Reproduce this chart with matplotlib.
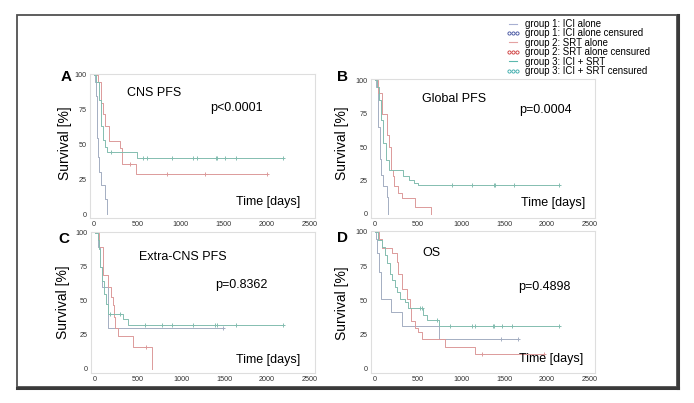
import matplotlib
matplotlib.use('Agg')
from matplotlib import pyplot as plt
from matplotlib.lines import Line2D
from matplotlib.patches import Rectangle

plt.rcParams['font.family'] = ['Liberation Sans', 'DejaVu Sans']

# Kaplan-Meier curves: step times (days) and survival (%)
# A: CNS PFS
a1_t = [0, 10, 25, 35, 40, 45, 60, 85, 124, 150]
a1_s = [100, 95, 85, 70, 55, 41, 30, 21, 11, 0]
a1_c = []
a2_t = [0, 50, 85, 105, 130, 175, 300, 320, 485, 2004]
a2_s = [100, 95, 80, 72, 63, 52.5, 47.7, 36, 28.5, 28.5]
a2_c = [415, 841, 1279, 2004]
a3_t = [0, 25, 60, 85, 105, 125, 150, 500, 2186]
a3_s = [100, 95, 82, 63, 53, 48, 44.8, 40.5, 40.5]
a3_c = [200, 562, 608, 899, 1151, 1190, 1411, 1426, 1519, 1647, 2186]

# B: Global PFS
b1_t = [0, 12, 30, 40, 58, 70, 97, 136, 155]
b1_s = [100, 95, 80, 65, 41, 29, 21, 13, 0]
b1_c = []
b2_t = [0, 40, 80, 136, 167, 182, 213, 225, 271, 310, 465, 647]
b2_s = [100, 90, 75, 59, 50, 33, 28, 21, 15.4, 11.7, 5.5, 0]
b2_c = []
b3_t = [0, 20, 45, 70, 97, 128, 167, 330, 390, 450, 500, 2143]
b3_s = [100, 95, 85, 70, 53, 40, 32.8, 28.4, 25, 23, 21.6, 21.6]
b3_c = [891, 1132, 1384, 1395, 1616, 2143]

# C: Extra-CNS PFS
c1_t = [0, 40, 58, 78, 155, 1492]
c1_s = [100, 90, 75, 60.5, 30, 30]
c1_c = [1492]
c2_t = [0, 50, 97, 155, 182, 205, 225, 233, 271, 440, 659]
c2_s = [100, 90, 69, 60.5, 53, 47, 38.5, 30, 24, 16, 0]
c2_c = [589]
c3_t = [0, 30, 45, 58, 78, 100, 125, 155, 322, 388, 2190]
c3_s = [100, 95, 88, 75, 65, 55, 48, 40.2, 36.6, 32.4, 32.4]
c3_c = [174, 291, 581, 783, 891, 1143, 1395, 1415, 1636, 2190]

# D: OS
d1_t = [0, 12, 27, 47, 66, 183, 311, 739, 1664]
d1_s = [100, 95, 85, 70.7, 50.7, 41.5, 31, 22, 22]
d1_c = [1470, 1664]
d2_t = [0, 50, 78, 194, 253, 272, 311, 369, 408, 416, 467, 505, 544, 816, 1166, 1963]
d2_s = [100, 95, 88, 85, 78, 69.5, 58.5, 50.7, 44.6, 35, 30, 26.8, 22, 16.3, 11, 11]
d2_c = [1244, 1963]
d3_t = [0, 39, 78, 117, 136, 175, 202, 233, 260, 291, 350, 389, 560, 606, 747, 2138]
d3_s = [100, 94, 89, 83, 77, 69.5, 64.6, 59.8, 56, 51, 48.8, 44.6, 39, 35.4, 31, 31]
d3_c = [525, 544, 719, 867, 1128, 1167, 1368, 1380, 1477, 1594, 2138]

panels = [
    ('A', 'CNS PFS', 'p<0.0001', [(a1_t, a1_s, a1_c), (a2_t, a2_s, a2_c), (a3_t, a3_s, a3_c)]),
    ('B', 'Global PFS', 'p=0.0004', [(b1_t, b1_s, b1_c), (b2_t, b2_s, b2_c), (b3_t, b3_s, b3_c)]),
    ('C', 'Extra-CNS PFS', 'p=0.8362', [(c1_t, c1_s, c1_c), (c2_t, c2_s, c2_c), (c3_t, c3_s, c3_c)]),
    ('D', 'OS', 'p=0.4898', [(d1_t, d1_s, d1_c), (d2_t, d2_s, d2_c), (d3_t, d3_s, d3_c)]),
]
legend_labels = ['group 1: ICI alone', 'group 1: ICI alone censured',
                 'group 2: SRT alone', 'group 2: SRT alone censured',
                 'group 3: ICI + SRT', 'group 3: ICI + SRT censured']
x_ticks = [0, 500, 1000, 1500, 2000, 2500]
y_ticks = [0, 25, 50, 75, 100]

line_colors = ['#a4aec2', '#dc9a9a', '#84bdb0']
leg_line_colors = ['#a8b0d2', '#e4a2a2', '#5cb8ae']
leg_cens_colors = ['#3c4c9c', '#cc3434', '#32a8a8']

W, H = 694, 403
fig = plt.figure(figsize=(W / 100, H / 100), dpi=100)


def fx(x):
    return x / W


def fy(y):
    return 1 - y / H


# outer frame with a darker shadow at bottom/right
fig.patches.append(Rectangle((fx(17), fy(387)), fx(677) - fx(17), fy(15) - fy(387),
                             transform=fig.transFigure, fill=False,
                             edgecolor='#505050', linewidth=1.3))
fig.add_artist(Line2D([fx(17), fx(678)], [fy(387.5), fy(387.5)], color='#3a3a3a', lw=2.2))
fig.add_artist(Line2D([fx(677.5), fx(677.5)], [fy(387.5), fy(15)], color='#3a3a3a', lw=2.2))

# axes boxes in pixels: left, top, right, bottom
boxes = [(89.7, 73.6, 315.2, 218.2), (370.7, 78.7, 595.2, 218.0),
         (90.7, 231.6, 315.2, 373.0), (370.7, 230.6, 595.2, 373.0)]
letter_pos = [(66, 77), (343, 77), (64, 239), (343, 238)]
ylabel_pos = [(65, 143), (342, 143), (63, 302), (342, 303)]
title_pos = [(154, 93), (454, 99), (183, 257), (431, 253)]
p_pos = [(236, 108), (545, 110), (241, 285), (544, 287)]
time_pos = [(268, 202), (553, 203), (268, 360), (551, 359)]

for i, (letter, title, pval, groups) in enumerate(panels):
    l, t, r, b = boxes[i]
    ax = fig.add_axes([fx(l), fy(b), fx(r) - fx(l), fy(t) - fy(b)])
    for g, (times, surv, cens) in enumerate(groups):
        ax.step(times, surv, where='post', color=line_colors[g], lw=0.7)
        if cens:
            idx = [max(k for k in range(len(times)) if times[k] <= c) for c in cens]
            ax.plot(cens, [surv[k] for k in idx], '+', color=line_colors[g],
                    ms=2.6, mew=0.7, ls='none')
    ax.set_xlim(-50, 2560)
    ax.set_ylim(-3, 101)
    ax.set_xticks(x_ticks)
    ax.set_yticks(y_ticks)
    ax.tick_params(length=0, labelsize=5.2, colors='#333333', pad=2)
    for s in ax.spines.values():
        s.set_color('#dedede')
        s.set_linewidth(0.8)

    fig.text(fx(letter_pos[i][0]), fy(letter_pos[i][1]), letter, fontsize=11,
             fontweight='bold', ha='center', va='center')
    fig.text(fx(ylabel_pos[i][0]), fy(ylabel_pos[i][1]), 'Survival [%]', fontsize=10,
             rotation=90, ha='center', va='center')
    fig.text(fx(title_pos[i][0]), fy(title_pos[i][1]), title, fontsize=9,
             ha='center', va='center')
    fig.text(fx(p_pos[i][0]), fy(p_pos[i][1]), pval, fontsize=9,
             ha='center', va='center')
    fig.text(fx(time_pos[i][0]), fy(time_pos[i][1]), 'Time [days]', fontsize=9,
             ha='center', va='center')

# legend
handles = []
for g in range(3):
    handles.append(Line2D([], [], color=leg_line_colors[g], lw=0.8))
    handles.append(Line2D([], [], color=leg_cens_colors[g], marker='o', ms=2.3,
                          mew=0.6, fillstyle='none', ls='none'))
fig.legend(handles, legend_labels, loc='upper left',
           bbox_to_anchor=(fx(506), fy(19)), frameon=False, fontsize=6.9,
           numpoints=3, handlelength=1.45, handletextpad=0.55, labelspacing=-0.06,
           borderpad=0, borderaxespad=0)

fig.savefig('out.png', dpi=100)
